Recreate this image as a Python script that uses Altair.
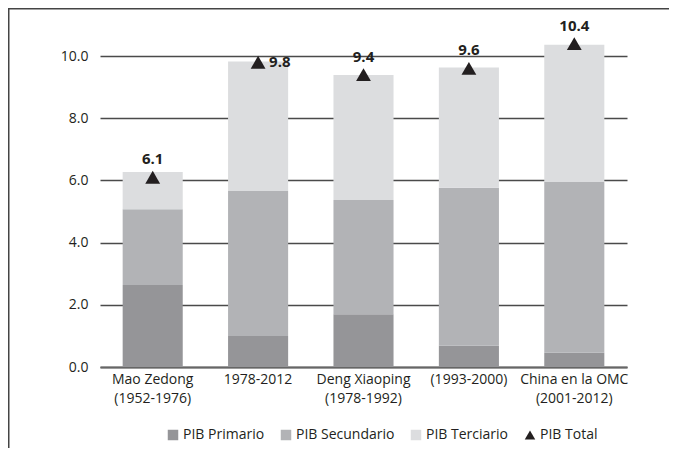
import altair as alt
import pandas as pd

periods = ["Mao Zedong\n(1952-1976)", "1978-2012", "Deng Xiaoping\n(1978-1992)",
           "(1993-2000)", "China en la OMC\n(2001-2012)"]
primario = [2.64, 1.00, 1.70, 0.68, 0.46]
secundario = [2.43, 4.66, 3.67, 5.08, 5.49]
terciario = [1.20, 4.16, 4.02, 3.87, 4.41]
total = [6.1, 9.8, 9.4, 9.6, 10.4]

series = ["PIB Primario", "PIB Secundario", "PIB Terciario", "PIB Total"]
colors = ["#959598", "#b2b3b6", "#dcdddf", "#231f20"]
shapes = ["square", "square", "square", "triangle-up"]

rows = []
for i, p in enumerate(periods):
    for k, (s, vals) in enumerate(zip(series[:3], [primario, secundario, terciario])):
        rows.append({"Periodo": p, "Serie": s, "Valor": vals[i], "orden": k})
bars_df = pd.DataFrame(rows)
tot_df = pd.DataFrame({"Periodo": periods, "Serie": "PIB Total", "Valor": total,
                       "Etiqueta": [f"{v:.1f}" for v in total]})

FONT = "Open Sans"
TXT = "#231f20"

xenc = alt.X("Periodo:N", sort=periods, title=None,
             scale=alt.Scale(paddingInner=0.43, paddingOuter=0.215),
             axis=alt.Axis(labelAngle=0, ticks=False, domainColor="#666666", domainWidth=2,
                           labelExpr="split(datum.label, '\\n')", labelFontSize=14,
                           labelColor=TXT, labelFont=FONT, labelPadding=5, labelLineHeight=19))
yscale = alt.Scale(domain=[0, 10], nice=False)

bars = alt.Chart(bars_df).mark_bar().encode(
    x=xenc,
    y=alt.Y("sum(Valor):Q", scale=yscale, title=None,
            axis=alt.Axis(values=[0, 2, 4, 6, 8, 10], format=".1f", domain=False, ticks=False,
                          gridColor="#4a4a4a", gridWidth=1.5, labelFontSize=14,
                          labelColor=TXT, labelFont=FONT, labelPadding=12)),
    color=alt.Color("Serie:N", scale=alt.Scale(domain=series, range=colors),
                    legend=alt.Legend(title=None, orient="none", direction="horizontal",
                                      legendX=66, legendY=372, columnPadding=14,
                                      symbolSize=110, labelFontSize=14, labelFont=FONT,
                                      labelColor=TXT, labelOffset=3, symbolStrokeWidth=0)),
    order=alt.Order("orden:Q"),
)

pts = alt.Chart(tot_df).mark_point(filled=True, size=220, opacity=1).encode(
    x=alt.X("Periodo:N", sort=periods),
    y=alt.Y("Valor:Q", scale=yscale),
    color=alt.Color("Serie:N", scale=alt.Scale(domain=series, range=colors)),
    shape=alt.Shape("Serie:N", scale=alt.Scale(domain=series, range=shapes),
                    legend=alt.Legend(title=None)),
)

lbl_top = alt.Chart(tot_df).transform_filter(alt.datum.Periodo != "1978-2012").mark_text(
    dy=-18, fontWeight="bold", fontSize=15, font=FONT, color=TXT
).encode(x=alt.X("Periodo:N", sort=periods), y=alt.Y("Valor:Q", scale=yscale), text="Etiqueta:N")

lbl_right = alt.Chart(tot_df).transform_filter(alt.datum.Periodo == "1978-2012").mark_text(
    dx=11, align="left", fontWeight="bold", fontSize=15, font=FONT, color=TXT
).encode(x=alt.X("Periodo:N", sort=periods), y=alt.Y("Valor:Q", scale=yscale), text="Etiqueta:N")

frame = alt.Chart(alt.Data(values=[{"a": 1}])).mark_rect(
    fill=None, stroke="#444444", strokeWidth=3
).encode(x=alt.value(-92), x2=alt.value(700), y=alt.value(-48), y2=alt.value(600))

chart = alt.layer(bars, pts, lbl_top, lbl_right, frame).properties(
    width=527, height=311,
    autosize=alt.AutoSizeParams(type="none"),
    padding={"left": 92, "top": 48, "right": 42, "bottom": 81},
    background="white",
).configure_view(stroke=None)

chart.save("out.html", embed_options={"renderer": "svg", "actions": False})
